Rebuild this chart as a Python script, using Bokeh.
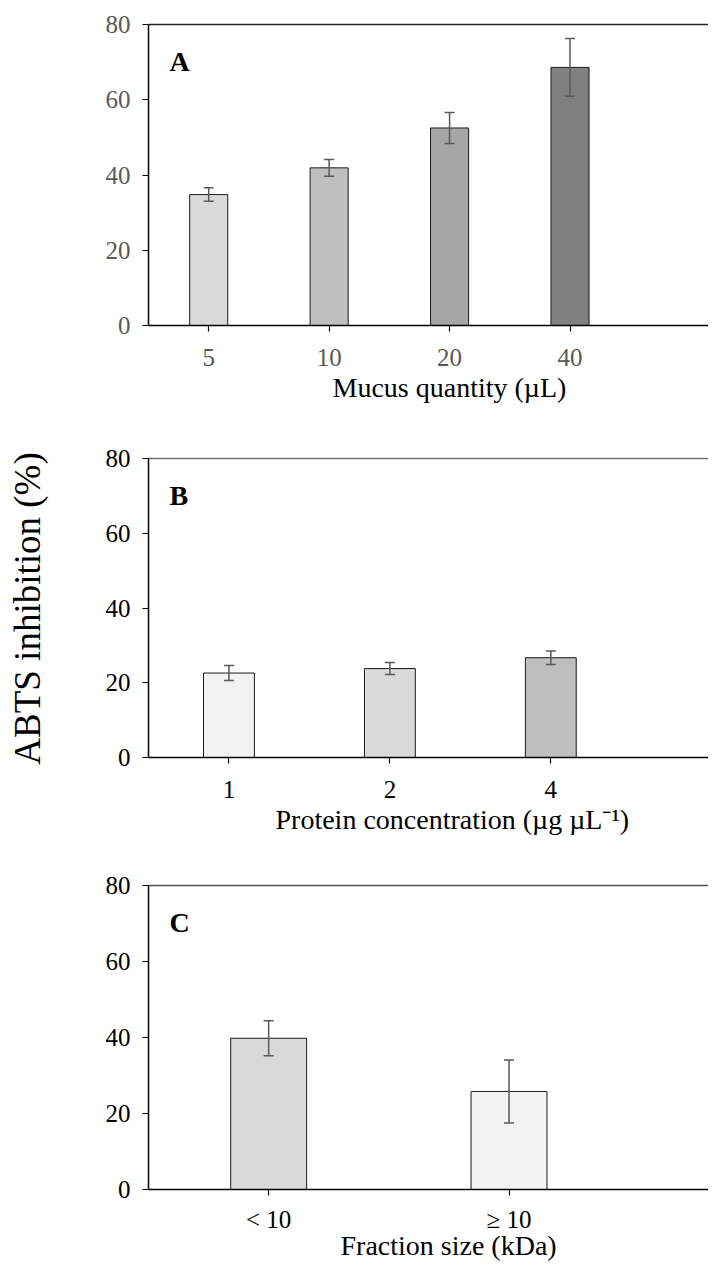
import math
from bokeh.plotting import figure
from bokeh.models import (ColumnDataSource, Whisker, TeeHead, FixedTicker,
                          LinearAxis, Range1d, Label, Title)
from bokeh.layouts import row, column
from bokeh.embed import file_html
from bokeh.resources import INLINE

FONT = "Liberation Serif"

# ---- data ----
a_labels = ["5", "10", "20", "40"]
a_values = [34.8, 41.9, 52.5, 68.6]
a_errors = [1.8, 2.2, 4.1, 7.7]
a_colors = ["#d9d9d9", "#bfbfbf", "#a6a6a6", "#808080"]

b_labels = ["1", "2", "4"]
b_values = [22.6, 23.8, 26.7]
b_errors = [2.0, 1.6, 1.8]
b_colors = ["#f2f2f2", "#d9d9d9", "#bfbfbf"]

c_labels = ["< 10", "≥ 10"]
c_values = [39.8, 25.8]
c_errors = [4.6, 8.3]
c_colors = ["#d9d9d9", "#f2f2f2"]

y_ticks = [0, 20, 40, 60, 80]

ERR = "#595959"


def panel(labels, vals, errs, cols, xlabel, letter, x_end, height,
          mb_top, mb_bottom, tick_color, top_color, tick_standoff,
          title_standoff, title_offset):
    n = len(labels)
    xs = list(range(n))
    src = ColumnDataSource(dict(
        x=xs, top=vals,
        upper=[v + e for v, e in zip(vals, errs)],
        lower=[v - e for v, e in zip(vals, errs)],
        color=cols))
    x_start = -0.5
    p = figure(width=610, height=height,
               x_range=Range1d(x_start, x_end), y_range=Range1d(0, 80),
               output_backend="svg", toolbar_location=None,
               min_border_left=50, min_border_right=0,
               min_border_top=mb_top, min_border_bottom=mb_bottom)
    p.grid.visible = False
    p.outline_line_color = None
    p.background_fill_color = "white"
    p.border_fill_color = "white"

    p.vbar(x="x", top="top", bottom=0, width=0.316, fill_color="color",
           line_color="#1a1a1a", line_width=1, source=src)
    w = Whisker(source=src, base="x", upper="upper", lower="lower",
                line_color=ERR, line_width=1.5, level="annotation",
                upper_head=TeeHead(size=10, line_color=ERR, line_width=1.5),
                lower_head=TeeHead(size=10, line_color=ERR, line_width=1.5))
    p.add_layout(w)

    xa = p.xaxis[0]
    xa.ticker = FixedTicker(ticks=xs)
    xa.major_label_overrides = {i: lab for i, lab in enumerate(labels)}
    ya = p.yaxis[0]
    ya.ticker = FixedTicker(ticks=y_ticks)
    for ax in (xa, ya):
        ax.axis_line_color = "black"
        ax.axis_line_width = 1.5
        ax.major_tick_line_color = "black"
        ax.major_tick_line_width = 1.2
        ax.major_tick_out = 6
        ax.major_tick_in = 0
        ax.minor_tick_line_color = None
        ax.major_label_text_font = FONT
        ax.major_label_text_font_size = "25px"
        ax.major_label_text_color = tick_color
    xa.major_label_standoff = tick_standoff
    ya.major_label_standoff = 12

    ta = LinearAxis(ticker=FixedTicker(ticks=[]),
                    major_label_text_font_size="0px",
                    major_tick_line_color=None, minor_tick_line_color=None,
                    major_label_standoff=0, axis_label_standoff=0,
                    axis_line_color=top_color, axis_line_width=1.5)
    p.add_layout(ta, "above")

    # x-axis title, placed as in the original (whose frame ran further right)
    p.add_layout(Title(text=xlabel, align="left", offset=title_offset,
                       standoff=title_standoff, text_font=FONT,
                       text_font_size="28px", text_font_style="normal",
                       text_color="black"), "below")

    p.add_layout(Label(x=x_start, y=80, x_offset=21, y_offset=-52,
                       text=letter, text_font=FONT, text_font_size="28px",
                       text_font_style="bold", text_color="black"))
    return p


pA = panel(a_labels, a_values, a_errors, a_colors, "Mucus quantity (µL)", "A",
           4.15, 440, 24, 115, "#595959", "#222222", 17, 3, 184)
pB = panel(b_labels, b_values, b_errors, b_colors,
           "Protein concentration (µg µL⁻¹)", "B",
           2.98, 427, 18, 110, "black", "#707070", 17, 3, 127)
pC = panel(c_labels, c_values, c_errors, c_colors, "Fraction size (kDa)", "C",
           1.83, 402, 18, 80, "black", "#505050", 10, -16, 192)

lab = figure(width=98, height=1269, x_range=Range1d(0, 98),
             y_range=Range1d(0, 1269), output_backend="svg",
             toolbar_location=None, min_border=0,
             x_axis_type=None, y_axis_type=None)
lab.grid.visible = False
lab.outline_line_color = None
lab.add_layout(Label(x=27, y=661, text="ABTS inhibition (%)",
                     angle=math.pi / 2, text_align="center",
                     text_baseline="alphabetic", text_font=FONT,
                     text_font_size="37px", text_color="black"))

layout = row(lab, column(pA, pB, pC))

open("out.html", "w").write(file_html(layout, INLINE))
